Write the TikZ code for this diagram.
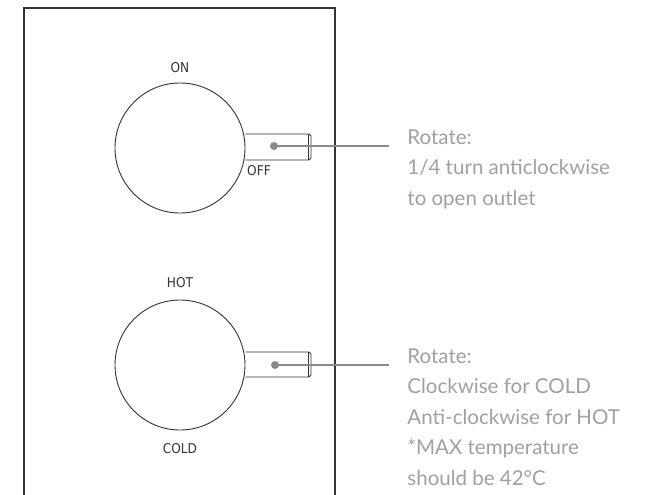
\documentclass[tikz,border=0pt]{standalone}
\usepackage{fontspec}
\setmainfont{Lato}
\newfontfamily\labelfont{DejaVu Sans Condensed}
\definecolor{panelgray}{HTML}{333333}
\definecolor{leadergray}{HTML}{8A8A8A}
\definecolor{notegray}{HTML}{A0A0A0}

\begin{document}
\begin{tikzpicture}[x=1pt, y=-1pt, line width=0.9pt,
    knob/.style={circle, draw=panelgray, minimum size=130pt, inner sep=0pt},
    pin/.style={circle, fill=leadergray, minimum size=8pt, inner sep=0pt},
    tag/.style={text=panelgray, font=\labelfont\fontsize{13.5}{14}\selectfont},
    note/.style={anchor=north west, align=left, inner sep=0pt, text=notegray,
        font=\fontsize{20.5}{30.5}\selectfont},
    leader/.style={draw=leadergray, line width=1.2pt}]
    \useasboundingbox (0,0) rectangle (648,495);

    % panel
    \draw[panelgray, line width=1.2pt] (24,495) -- (24,8) -- (335,8) -- (335,495);

    % upper knob: outlet
    \node[knob] (knobA) at (180,148) {};
    \draw[panelgray] (knobA.east |- 0,134) -- (309,134) -- (311,136) -- (311,158) -- (309,160) -- (knobA.east |- 0,160);
    \draw[panelgray] (308,134) -- (308,160);
    \node[pin] (pinA) at (274,146) {};
    \node[tag] (on) at (180,68) {ON};
    \node[tag] (off) at (259,171) {OFF};
    \coordinate (endA) at (389,146);
    \draw[leader] (pinA.center) -- (endA);
    \node[note] (noteA) at (407,129) {Rotate:\\1/4 turn anticlockwise\\to open outlet};

    % lower knob: temperature
    \node[knob] (knobB) at (180,365) {};
    \draw[panelgray] (knobB.east |- 0,352) -- (309,352) -- (311,354) -- (311,375) -- (309,377) -- (knobB.east |- 0,377);
    \draw[panelgray] (308,352) -- (308,377);
    \node[pin] (pinB) at (275,365) {};
    \node[tag] (hot) at (180,283) {HOT};
    \node[tag] (cold) at (180,449) {COLD};
    \coordinate (endB) at (389,365);
    \draw[leader] (pinB.center) -- (endB);
    \node[note] (noteB) at (407,348) {Rotate:\\Clockwise for COLD\\Anti-clockwise for HOT\\*MAX temperature\\should be 42°C};
\end{tikzpicture}
\end{document}
